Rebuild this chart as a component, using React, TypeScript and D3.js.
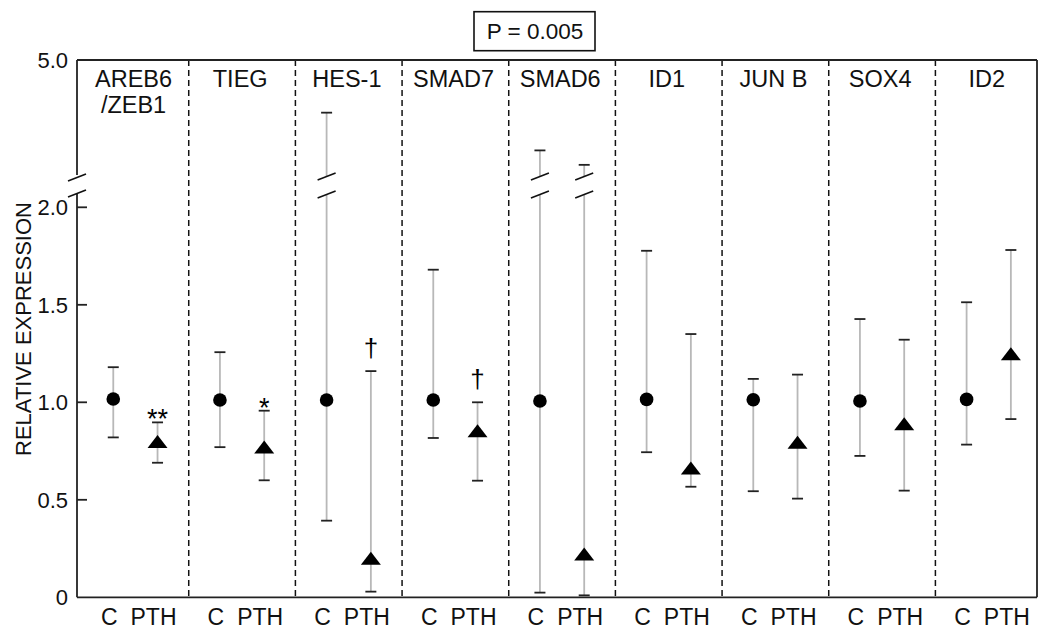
import React from "react";
import * as d3 from "d3";

// ---- data ----
const geneLabels: string[][] = [
  ["AREB6", "/ZEB1"], ["TIEG"], ["HES-1"], ["SMAD7"], ["SMAD6"],
  ["ID1"], ["JUN B"], ["SOX4"], ["ID2"],
];
const groupLabels = ["C", "PTH"];

const controlMean = [1.017, 1.012, 1.012, 1.012, 1.007, 1.015, 1.013, 1.007, 1.015];
const controlLow = [0.82, 0.77, 0.393, 0.817, 0.024, 0.744, 0.544, 0.725, 0.783];
const controlHigh = [1.18, 1.257, 3.87, 1.68, 3.06, 1.777, 1.12, 1.427, 1.513];

const pthMean = [0.799, 0.771, 0.2, 0.854, 0.222, 0.663, 0.795, 0.89, 1.249];
const pthLow = [0.69, 0.6, 0.029, 0.598, 0.01, 0.567, 0.506, 0.547, 0.914];
const pthHigh = [0.897, 0.957, 1.16, 1.0, 2.75, 1.35, 1.142, 1.321, 1.781];

const pthMarks = ["**", "*", "†", "†", "", "", "", "", ""];

const lowerTicks = [0, 0.5, 1.0, 1.5, 2.0];
const upperTicks = [5.0];
const pValueText = "P = 0.005";
const yTitle = "RELATIVE EXPRESSION";

// ---- layout ----
const W = 1050, H = 641;
const left = 77, right = 1037, top = 60, bottom = 597.3;
const breakLowPx = 194.5;   // top of lower segment
const breakHighPx = 176.5;  // bottom of upper segment
const FONT = "Liberation Sans, Arial, Helvetica, sans-serif";

const x = d3.scaleLinear().domain([0, geneLabels.length]).range([left, right]);
const yL = d3.scaleLinear().domain([0, 2]).range([bottom, 207.3]);
const yU = d3.scaleLinear().domain([2.5, 5]).range([breakHighPx, top]);
const lowerMax = yL.invert(breakLowPx);

const cPos = (i: number) => x(i + 0.34);
const pPos = (i: number) => x(i + 0.755);

const yVal = (v: number) => (v > lowerMax ? yU(v) : yL(v));

function Slash({ cx, cy }: { cx: number; cy: number }) {
  return <line x1={cx - 9} y1={cy + 3.5} x2={cx + 9} y2={cy - 3.5} stroke="#111" strokeWidth={1.6} />;
}

function ErrorBar({ cx, lo, hi }: { cx: number; lo: number; hi: number }) {
  const broken = hi > lowerMax;
  const gray = "#b8b8b8";
  const capW = 5.5;
  const yLo = yL(lo);
  const yHi = yVal(hi);
  return (
    <g>
      {broken ? (
        <>
          <line x1={cx} x2={cx} y1={yLo} y2={breakLowPx} stroke={gray} strokeWidth={1.8} />
          <line x1={cx} x2={cx} y1={breakHighPx} y2={yHi} stroke={gray} strokeWidth={1.8} />
          <Slash cx={cx} cy={breakHighPx} />
          <Slash cx={cx} cy={breakLowPx} />
        </>
      ) : (
        <line x1={cx} x2={cx} y1={yLo} y2={yHi} stroke={gray} strokeWidth={1.8} />
      )}
      <line x1={cx - capW} x2={cx + capW} y1={yLo} y2={yLo} stroke="#222" strokeWidth={1.8} />
      <line x1={cx - capW} x2={cx + capW} y1={yHi} y2={yHi} stroke="#222" strokeWidth={1.8} />
    </g>
  );
}

function trianglePath(cx: number, cy: number) {
  const p = d3.path();
  p.moveTo(cx, cy - 6.5);
  p.lineTo(cx + 10, cy + 6.5);
  p.lineTo(cx - 10, cy + 6.5);
  p.closePath();
  return p.toString();
}

export default function App() {
  const n = geneLabels.length;
  const dividers = d3.range(n - 1).map((i) => (pPos(i) + cPos(i + 1)) / 2);
  const fmt = (v: number) => (v === 0 ? "0" : v.toFixed(1));

  return (
    <svg width={W} height={H} style={{ position: "absolute", left: 0, top: 0, background: "#fff" }}
      fontFamily={FONT}>
      <rect x={0} y={0} width={W} height={H} fill="#fff" />

      {/* P value box */}
      <rect x={474} y={11.7} width={121} height={39} fill="none" stroke="#111" strokeWidth={1.6} />
      <text x={535} y={39.3} fontSize={22.5} textAnchor="middle" fill="#111">{pValueText}</text>

      {/* dashed dividers */}
      {dividers.map((dx, i) => (
        <line key={"d" + i} x1={dx} x2={dx} y1={top} y2={bottom} stroke="#111" strokeWidth={1.5}
          strokeDasharray="6,4" />
      ))}

      {/* gene labels */}
      {geneLabels.map((lines, i) => (
        <text key={"g" + i} x={x(i + 0.53)} y={86.7} fontSize={23.5} textAnchor="middle" fill="#111">
          {lines.map((l, j) => (
            <tspan key={j} x={x(i + 0.53)} dy={j === 0 ? 0 : 26.7}>{l}</tspan>
          ))}
        </text>
      ))}

      {/* error bars */}
      {geneLabels.map((_, i) => (
        <g key={"e" + i}>
          <ErrorBar cx={cPos(i)} lo={controlLow[i]} hi={controlHigh[i]} />
          <ErrorBar cx={pPos(i)} lo={pthLow[i]} hi={pthHigh[i]} />
        </g>
      ))}

      {/* markers */}
      {geneLabels.map((_, i) => (
        <g key={"m" + i}>
          <circle cx={cPos(i)} cy={yL(controlMean[i])} r={6.8} fill="#000" />
          <path d={trianglePath(pPos(i), yL(pthMean[i]))} fill="#000" />
        </g>
      ))}

      {/* significance marks */}
      {pthMarks.map((m, i) =>
        m ? (
          <text key={"s" + i} x={pPos(i)} y={m === "†" ? yVal(pthHigh[i]) - 14 : yVal(pthHigh[i]) + 6}
            fontSize={m === "†" ? 26 : 27} textAnchor="middle" fill="#000">{m}</text>
        ) : null
      )}

      {/* frame */}
      <line x1={left} x2={right} y1={top} y2={top} stroke="#222" strokeWidth={1.8} />
      <line x1={left} x2={right} y1={bottom} y2={bottom} stroke="#222" strokeWidth={1.8} />
      <line x1={right} x2={right} y1={top} y2={bottom} stroke="#222" strokeWidth={1.8} />
      <line x1={left} x2={left} y1={top} y2={breakHighPx - 1.5} stroke="#222" strokeWidth={1.8} />
      <line x1={left} x2={left} y1={breakLowPx - 0.5} y2={bottom} stroke="#222" strokeWidth={1.8} />
      <Slash cx={left} cy={breakHighPx + 1} />
      <Slash cx={left} cy={breakLowPx - 1} />

      {/* y ticks */}
      {lowerTicks.map((t) => (
        <g key={"t" + t}>
          {t > 0 && <line x1={left} x2={left + 10} y1={yL(t)} y2={yL(t)} stroke="#222" strokeWidth={1.8} />}
          <text x={68} y={yL(t)} dy="0.36em" fontSize={22} textAnchor="end" fill="#111">{fmt(t)}</text>
        </g>
      ))}
      {upperTicks.map((t) => (
        <text key={"u" + t} x={68} y={yU(t)} dy="0.36em" fontSize={22} textAnchor="end" fill="#111">{fmt(t)}</text>
      ))}

      {/* x group labels */}
      {geneLabels.map((_, i) => (
        <g key={"x" + i}>
          <text x={cPos(i) - 4} y={625} fontSize={23} textAnchor="middle" fill="#111">{groupLabels[0]}</text>
          <text x={pPos(i) - 4} y={625} fontSize={23} textAnchor="middle" fill="#111">{groupLabels[1]}</text>
        </g>
      ))}

      {/* y title */}
      <text transform="translate(31,329) rotate(-90)" fontSize={22} textAnchor="middle" fill="#111">{yTitle}</text>
    </svg>
  );
}
